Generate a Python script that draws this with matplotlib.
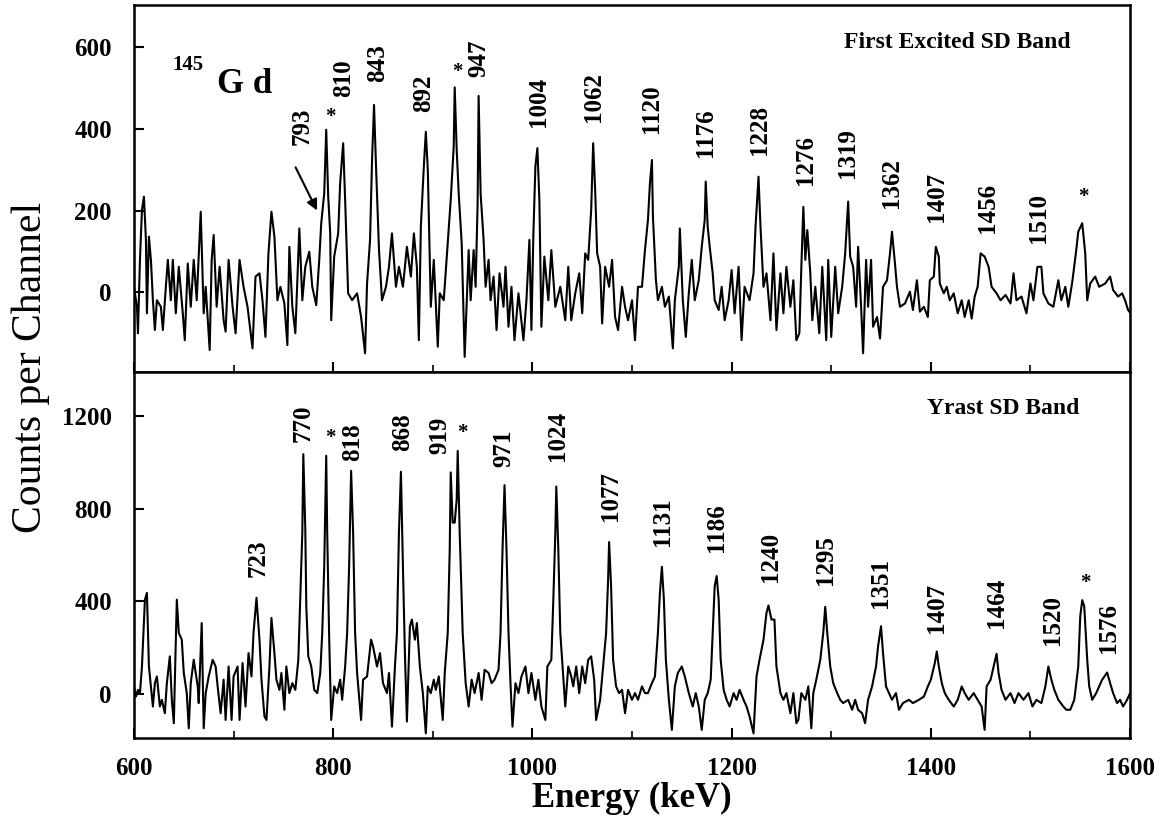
import matplotlib
matplotlib.use("Agg")
import matplotlib.pyplot as plt
from matplotlib.ticker import MultipleLocator, FixedLocator

plt.rcParams['font.family'] = 'Liberation Serif'

# First Excited SD Band spectrum (keV, counts)
e_top = [600, 603, 604, 606, 608, 610, 612, 613, 615, 617, 619, 621, 623, 627, 629, 632, 634, 637, 639, 642,
         645, 649, 651, 654, 657, 660, 663, 667, 670, 672, 676, 678, 680, 683, 686, 690, 692, 695, 699, 702,
         706, 710, 714, 719, 722, 726, 729, 732, 735, 738, 741, 744, 747, 751, 754, 756, 759, 762, 766, 769,
         772, 776, 779, 783, 786, 788, 791, 793, 795, 797, 798, 801, 805, 807, 810, 812, 815, 819, 824, 828,
         832, 834, 837, 839, 841, 843, 846, 849, 853, 856, 859, 863, 866, 870, 874, 878, 881, 884, 886, 888,
         891, 893, 895, 898, 901, 905, 907, 911, 915, 918, 921, 922, 924, 926, 929, 932,
         936, 938, 941, 943, 945, 946, 948, 951, 953, 956, 958, 961, 964, 967, 971, 973, 976, 979, 982, 986,
         991, 994, 997, 999, 1001, 1003, 1005, 1007, 1009, 1012, 1016, 1019, 1023, 1028, 1033, 1036, 1039,
         1043, 1047, 1050, 1053, 1056, 1059, 1061, 1063, 1065, 1068, 1070, 1073, 1077, 1080, 1083, 1086,
         1090, 1093, 1096, 1100, 1103, 1106, 1110, 1113, 1116, 1118, 1120, 1121, 1124, 1126, 1130, 1133,
         1137, 1141, 1143, 1147, 1148, 1151, 1154, 1157, 1160, 1163, 1167, 1170, 1173, 1174, 1176, 1178,
         1181, 1183, 1187, 1190, 1193, 1197, 1200, 1203, 1207, 1210, 1213, 1218, 1222, 1224, 1227, 1229,
         1232, 1235, 1239, 1242, 1245, 1249, 1252, 1255, 1259, 1262, 1265,
         1268, 1270, 1272, 1274, 1276, 1279, 1281, 1284, 1288, 1291, 1295, 1297, 1300, 1304, 1307, 1311,
         1314, 1317, 1319, 1322, 1325, 1327, 1330, 1332, 1335, 1337, 1340, 1342, 1346, 1349, 1352, 1356,
         1359, 1361, 1364, 1366, 1369, 1374, 1379, 1382, 1386, 1389, 1393, 1397, 1399, 1403, 1405, 1408,
         1409, 1413, 1416, 1419, 1423, 1427, 1431, 1434, 1438, 1441, 1444, 1447, 1450, 1454, 1458, 1461,
         1466, 1470, 1475, 1480, 1483, 1486, 1491, 1496, 1500, 1503, 1507, 1511, 1513, 1518, 1523, 1528,
         1531, 1535, 1538, 1542, 1546, 1548, 1552, 1555, 1557, 1560, 1565, 1569, 1575, 1580, 1583, 1588,
         1592, 1595, 1598, 1600]
c_top = [13, -36, -101, 79, 201, 234, 128, -52, 136, 79, -20, -93, -20, -36, -93, 13, 79, -20, 79, -52,
         62, -52, -118, 70, -36, 79, -20, 197, -52, 13, -142, 79, 140, -36, 62, -69, -97, 79, -36, -101,
         79, 13, -36, -138, 38, 46, -20, -110, 95, 197, 136, -20, 13, -28, -130, 111, -36, -101, 156, -20,
         62, 99, 13, -32, 79, 169, 242, 398, 234, 144, -69, 87, 144, 267, 365, 226, -3, -20, -3, -61,
         -150, 21, 128, 324, 459, 308, 103, -20, 13, 62, 144, 13, 62, 13, 111, 38, 144, 62, -118, 160,
         308, 393, 299, -36, 79, -134, -3, -20, 119, 226, 357, 502, 348, 242, 120, -159,
         103, -20, 103, 13, 218, 481, 242, 128, 13, 79, -20, 38, -93, 46, -36, 62, -85, 13, -118, -3,
         -118, -20, 128, -93, 144, 308, 353, 226, -85, 87, -20, 103, -36, 13, -69, 62, -69,
         -3, 46, -52, 95, 79, 201, 365, 250, 95, 62, -77, 62, 13, 79, -61, -93,
         13, -36, -69, -20, -118, 13, 13, 103, 177, 267, 324, 185, 29, -20, 13, -36,
         -11, -138, -20, 62, 156, -20, -110, -3, 79, -20, 29, 111, 177, 271, 160, 111,
         46, -20, -44, 13, -69, -20, 54, -52, 62, -118, 13, -20, 46, 160, 283, 160,
         13, 46, -69, 95, -93, 46, -52, 62, -36, 29, -118,
         -101, 62, 209, 79, 152, 46, -69, 13, -101, 62, -118, 79, -110, 62, -52, 13,
         95, 222, 87, 62, -36, 111, -36, -150, 79, -36, 79, -85, -61, -114, 13, 29,
         95, 148, 70, 13, -36, -28, 1, -44, 29, -48, -36, -61, 29, 38, 111, 87,
         21, -3, 13, -20, -3, -52, -20, -61, -20, -65, -11, 13, 95, 87, 62, 13,
         -3, -20, -7, -28, 46, -20, -11, -52, 21, -20, 62, 62, -3, -28, -36, 29,
         -20, 13, -36, 25, 103, 148, 169, 95, -20, 21, 38, 13, 21, 38, 5, -11,
         -3, -20, -44, -50]

# Yrast SD Band spectrum (keV, counts)
e_bot = [600, 602, 604, 606, 608, 611, 613, 615, 617, 619, 621, 623, 626, 628, 631, 633, 636, 638, 640, 643,
         645, 648, 650, 653, 655, 657, 660, 664, 665, 668, 670, 672, 675, 679, 682, 684, 687, 690, 692, 695,
         698, 700, 704, 706, 709, 712, 715, 718, 720, 723, 726, 728, 731, 733, 736, 738, 741, 743, 746, 748,
         751, 753, 756, 759, 762, 765, 767, 769, 770, 772, 773, 775, 778, 781, 784, 787, 789, 791, 793, 794,
         796, 798, 801, 804, 807, 809, 812, 814, 816, 818, 820, 822, 824, 828, 830, 834, 838, 840, 844, 847,
         850, 854, 856, 859, 862, 864, 866, 868, 870, 872, 874, 877, 879, 882, 884, 887, 890, 893, 895, 898,
         901, 903, 906, 910, 912, 915, 917, 918, 920, 922, 924, 925, 927, 930, 933,
         936, 939, 942, 946, 949, 952, 956, 959, 962, 966, 968, 970, 972, 974, 976, 978, 980, 983, 986, 989,
         993, 996, 999, 1003, 1006, 1009, 1013, 1015, 1019, 1021, 1023, 1024, 1026, 1028, 1030, 1033, 1036,
         1039, 1041, 1044, 1047, 1050, 1053, 1056, 1059, 1062, 1064, 1068, 1071, 1074, 1076, 1077, 1079,
         1081, 1084, 1087, 1090, 1093, 1096, 1100, 1103, 1106, 1110, 1113, 1116, 1120, 1123, 1126, 1128,
         1130, 1132, 1134, 1137, 1140, 1143, 1146, 1150, 1153, 1157, 1161, 1164, 1167, 1170, 1173, 1176,
         1179, 1181, 1183, 1185, 1187, 1189, 1192, 1195, 1198, 1202, 1205, 1208, 1212, 1215, 1218, 1222,
         1225, 1228, 1232, 1235, 1237, 1240, 1243, 1245, 1249, 1252, 1255, 1259, 1262, 1265,
         1267, 1270, 1274, 1277, 1280, 1282, 1285, 1289, 1292, 1294, 1296, 1299, 1302, 1306, 1309, 1312,
         1317, 1321, 1324, 1327, 1331, 1334, 1337, 1341, 1345, 1347, 1350, 1352, 1355, 1358, 1361, 1365,
         1368, 1372, 1378, 1382, 1388, 1393, 1397, 1400, 1404, 1406, 1408, 1411, 1414, 1418, 1423, 1427,
         1431, 1434, 1438, 1443, 1447, 1451, 1454, 1456, 1460, 1463, 1466, 1468, 1471, 1475, 1480, 1484,
         1488, 1493, 1498, 1502, 1506, 1511, 1515, 1518, 1521, 1524, 1528, 1533, 1536, 1540, 1544, 1548,
         1550, 1552, 1554, 1557, 1559, 1562, 1566, 1569, 1572, 1577, 1580, 1583, 1587, 1590, 1593, 1597,
         1600]
c_bot = [32, -12, 17, 3, 118, 407, 436, 118, 32, -55, 46, 75, -55, -26, -84, 46, 162, -26, -127, 407,
         263, 234, 90, 3, -149, 46, 147, 32, -40, 306, -149, 3, 75, 147, 118, 32, -84, 61, -113, 118,
         -113, 75, 118, -113, 133, -55, 176, 75, 263, 415, 234, 61, -98, -113, 118, 328, 176, 61, 17, 90,
         -69, 118, 3, 46, 17, 147, 422, 696, 1036, 711, 379, 162, 118, 17, 3, 90, 263, 552, 1029, 696,
         234, -113, 32, 3, 61, -26, 118, 263, 552, 964, 696, 263, 90, -113, 61, 75, 234, 205, 118, 176,
         46, 3, 90, -142, 118, 263, 696, 960, 552, 176, -120, 292, 321, 234, 306, 118, 3, -171, 32, 3,
         61, 17, 75, -113, 90, 263, 624, 957, 740, 740, 841, 1050, 696, 263, 46,
         -55, 61, 3, 90, -26, 104, 90, 46, 61, 104, 263, 624, 902, 624, 263, 46, -142, 46, 3, 75,
         118, 3, 90, -26, 61, -55, -113, 118, 147, 407, 696, 896, 624, 263, 133, -55, 118,
         75, 32, 118, 3, 118, 46, 147, 162, 61, -113, -26, 118, 263, 494, 656, 465,
         147, 32, 3, 17, -84, 17, -26, 3, -26, 32, 3, 3, 46, 75, 263, 436,
         549, 407, 147, -26, -156, 32, 90, 118, 75, 3, -55, 3, -55, -156, -26, 3,
         61, 263, 465, 509, 407, 147, 17, -26, -55, 3, -26, 17, -26, -55, -98, -171,
         75, 147, 234, 350, 382, 321, 321, 118, 3, -26, 3, -84, 3, -127,
         -113, 3, -26, 32, -149, 3, 61, 147, 263, 376, 263, 118, 46, 3, -26, -40,
         -26, -69, -26, -69, -84, -127, -26, 32, 118, 205, 292, 176, 32, 3, -26, 3,
         -69, -40, -26, -40, -26, -12, 32, 61, 133, 183, 118, 46, 3, -26, -55, -26,
         32, 3, -26, 3, -26, -55, -156, 32, 61, 118, 173, 90, 17, -26, 3, -40,
         3, -26, 3, -55, -26, -40, 32, 118, 61, 17, -26, -55, -69, -69, -26, 118,
         335, 405, 379, 147, 32, -26, 3, 32, 61, 92, 46, 3, -40, -26, -55, -26,
         3]

# peak labels: (text, energy, counts at label bottom)
top_labels = [("793", 769, 361), ("810", 810, 479), ("843", 845, 515), ("892", 891, 442),
              ("947", 946, 528), ("1004", 1006, 405), ("1062", 1061, 417), ("1120", 1120, 390),
              ("1176", 1174, 331), ("1228", 1228, 336), ("1276", 1274, 263), ("1319", 1316, 280),
              ("1362", 1361, 206), ("1407", 1406, 172), ("1456", 1457, 145), ("1510", 1508, 120)]
top_stars = [(797, 430), (925, 540), (1553, 233)]

bot_labels = [("723", 725, 503), ("770", 770, 1088), ("818", 820, 1006), ("868", 870, 1049),
              ("919", 907, 1036), ("971", 971, 980), ("1024", 1025, 1006), ("1077", 1078, 745),
              ("1131", 1131, 637), ("1186", 1185, 611), ("1240", 1239, 485), ("1295", 1294, 472),
              ("1351", 1349, 373), ("1407", 1406, 264), ("1464", 1466, 286), ("1520", 1522, 212),
              ("1576", 1578, 178)]
bot_stars = [(797, 1105), (930, 1127), (1555, 481)]

fig = plt.figure(figsize=(11.65, 8.16), dpi=100)
ax1 = fig.add_axes([0.115, 0.5441, 0.855, 0.4498])
ax2 = fig.add_axes([0.115, 0.0956, 0.855, 0.4485])

ax1.plot(e_top, c_top, color='black', lw=1.5)
ax2.plot(e_bot, c_bot, color='black', lw=1.5)

ax1.set_ylim(-196, 704)
ax2.set_ylim(-191, 1391)
ax1.yaxis.set_major_locator(FixedLocator([0, 200, 400, 600]))
ax2.yaxis.set_major_locator(FixedLocator([0, 400, 800, 1200]))

for ax in (ax1, ax2):
    ax.set_xlim(600, 1600)
    ax.xaxis.set_major_locator(MultipleLocator(200))
    ax.xaxis.set_minor_locator(MultipleLocator(100))
    ax.tick_params(axis='both', which='major', direction='in', length=7, width=1.5,
                   labelsize=18, top=False, right=False)
    ax.tick_params(axis='x', which='minor', direction='in', length=5, width=1.2, top=False)
    ax.tick_params(axis='y', pad=16)
    ax.tick_params(axis='x', pad=14)
    for lab in ax.get_xticklabels() + ax.get_yticklabels():
        lab.set_fontweight('bold')
    for sp in ax.spines.values():
        sp.set_linewidth(1.8)

ax1.tick_params(axis='x', labelbottom=False)

for txt, e, c in top_labels:
    ax1.text(e, c, txt, rotation=90, ha='center', va='bottom', fontsize=18, fontweight='bold')
for e, c in top_stars:
    ax1.text(e, c, '*', ha='center', va='center', fontsize=15, fontweight='bold')
for txt, e, c in bot_labels:
    ax2.text(e, c, txt, rotation=90, ha='center', va='bottom', fontsize=18, fontweight='bold')
for e, c in bot_stars:
    ax2.text(e, c, '*', ha='center', va='center', fontsize=15, fontweight='bold')

ax1.annotate('', xy=(785, 194), xytext=(761, 312),
             arrowprops=dict(arrowstyle='-|>', color='black', lw=1.5, mutation_scale=16))

ax1.text(639, 557, '145', fontsize=15, fontweight='bold', va='center')
ax1.text(683, 508, 'G d', fontsize=25, fontweight='bold', va='center')

ax1.text(1540, 611, 'First Excited SD Band', ha='right', va='center', fontsize=17, fontweight='bold')
ax2.text(1549, 1235, 'Yrast SD Band', ha='right', va='center', fontsize=17, fontweight='bold')

fig.text(0.026, 0.55, 'Counts per Channel', rotation=90, ha='center', va='center', fontsize=30)
fig.text(0.5425, 0.022, 'Energy (keV)', ha='center', va='center', fontsize=25, fontweight='bold')

fig.savefig('out.png', dpi=100)
